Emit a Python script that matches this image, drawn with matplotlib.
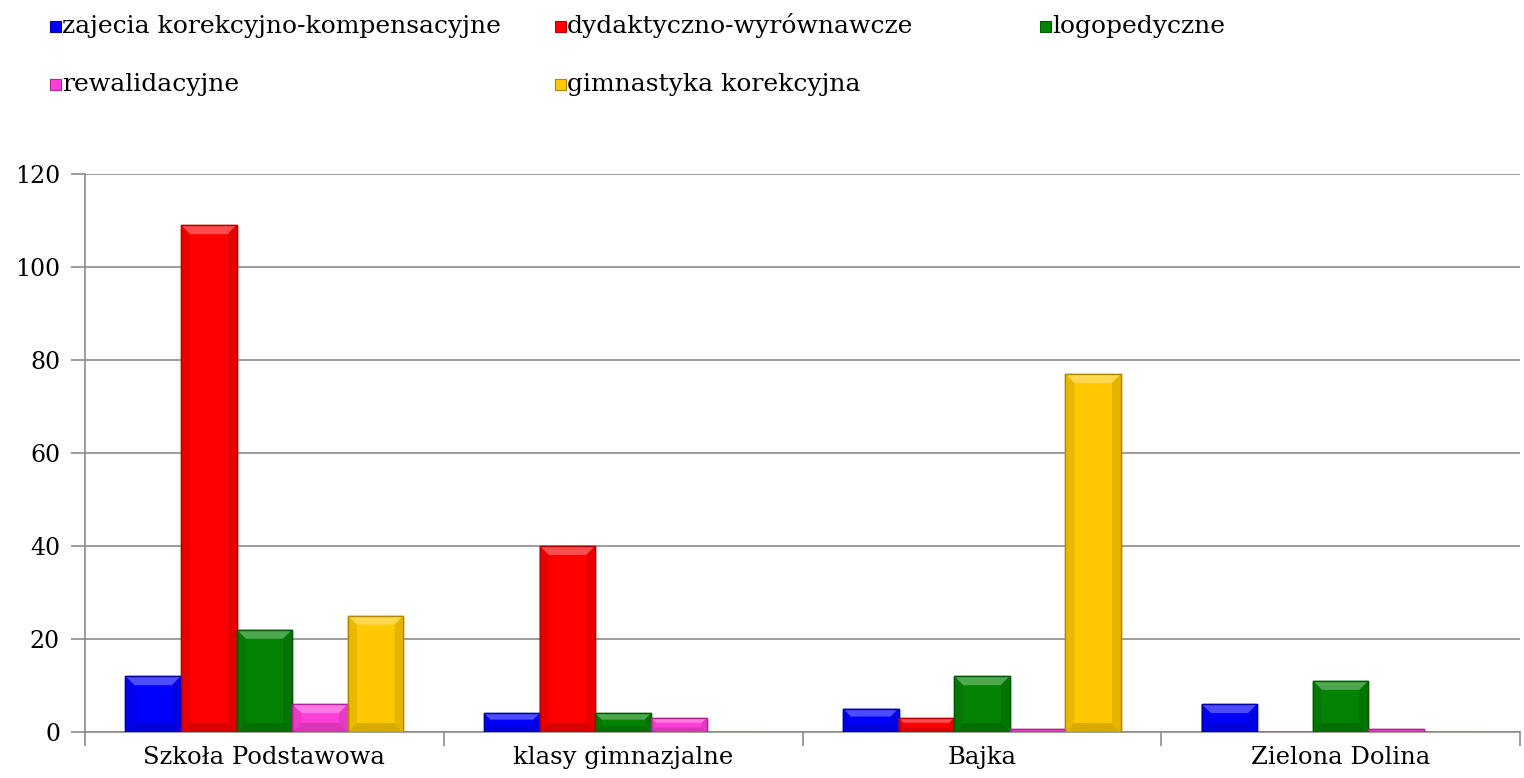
import matplotlib
matplotlib.use("Agg")
import matplotlib.pyplot as plt
import matplotlib.patches as mpatches
import matplotlib.colors as mcolors
import numpy as np

categories = ["Szkoła Podstawowa", "klasy gimnazjalne", "Bajka", "Zielona Dolina"]
series_names = ["zajecia korekcyjno-kompensacyjne", "dydaktyczno-wyrównawcze", "logopedyczne",
                "rewalidacyjne", "gimnastyka korekcyjna"]
zajecia = [12, 4, 5, 6]
dydaktyczno = [109, 40, 3, 0]
logopedyczne = [22, 4, 12, 11]
rewalidacyjne = [6, 3, 0.6, 0.6]
gimnastyka = [25, 0, 77, 0]
series_values = [zajecia, dydaktyczno, logopedyczne, rewalidacyjne, gimnastyka]
colors = ["#0000FF", "#FF0000", "#048204", "#FF40D8", "#FFC800"]
edges = ["#0000A0", "#B00000", "#025A02", "#B02098", "#B08800"]
yticks = [0, 20, 40, 60, 80, 100, 120]


def mix(c, other, t):
    a = np.array(mcolors.to_rgb(c))
    b = np.array(mcolors.to_rgb(other))
    return tuple(a * (1 - t) + b * t)


plt.rcParams['font.family'] = ['DejaVu Serif']
fig = plt.figure(figsize=(15.24, 7.78), dpi=100)
ax = fig.add_axes([0.0558, 0.0591, 0.9416, 0.7172])

ax.set_xlim(-0.5, len(categories) - 0.5)
ax.set_ylim(0, 120)

n = len(series_values)
bw = 0.155
x = np.arange(len(categories))
# bevel size in data units (~8 px)
px_x = 1.0 / 359.0
px_y = 120.0 / 558.0
for i, (vals, c, e) in enumerate(zip(series_values, colors, edges)):
    pos = x + (i - (n - 1) / 2) * bw
    bars = ax.bar(pos, vals, width=bw, color=c, edgecolor=e, linewidth=1.0, zorder=3)
    for b in bars:
        h = b.get_height()
        if h <= 0:
            continue
        x0 = b.get_x()
        x1 = x0 + b.get_width()
        dy = min(9 * px_y, h / 3.0)
        dx = min(9 * px_x, dy / px_y * px_x)
        top = [(x0, h), (x1, h), (x1 - dx, h - dy), (x0 + dx, h - dy)]
        bot = [(x0, 0), (x1, 0), (x1 - dx, dy), (x0 + dx, dy)]
        left = [(x0, 0), (x0 + dx, dy), (x0 + dx, h - dy), (x0, h)]
        right = [(x1, 0), (x1 - dx, dy), (x1 - dx, h - dy), (x1, h)]
        ax.add_patch(mpatches.Polygon(top, closed=True, facecolor=mix(c, "white", 0.3),
                                      edgecolor='none', zorder=3.5))
        ax.add_patch(mpatches.Polygon(bot, closed=True, facecolor=mix(c, "black", 0.15),
                                      edgecolor='none', zorder=3.5))
        ax.add_patch(mpatches.Polygon(left, closed=True, facecolor=mix(c, "black", 0.08),
                                      edgecolor='none', zorder=3.5))
        ax.add_patch(mpatches.Polygon(right, closed=True, facecolor=mix(c, "black", 0.1),
                                      edgecolor='none', zorder=3.5))
        ax.add_patch(mpatches.Rectangle((x0, 0), x1 - x0, h, facecolor='none',
                                        edgecolor=e, linewidth=1.0, zorder=3.6))

ax.set_yticks(yticks)
ax.set_yticklabels([str(t) for t in yticks], fontsize=17)
ax.yaxis.grid(True, color="#8C8C8C", linewidth=1.2, zorder=0)
ax.set_axisbelow(True)

ax.set_xticks(x)
ax.set_xticklabels(categories, fontsize=17.5)
ax.tick_params(axis='x', length=0, pad=10)
ax.set_xticks(np.arange(-0.5, len(categories) + 0.5, 1), minor=True)
ax.tick_params(axis='x', which='minor', length=10, color="#8C8C8C", width=1.2)
ax.tick_params(axis='y', length=10, color="#8C8C8C", width=1.2, pad=8)

for s in ['top', 'right']:
    ax.spines[s].set_visible(False)
for s in ['left', 'bottom']:
    ax.spines[s].set_color("#8C8C8C")
    ax.spines[s].set_linewidth(1.2)

# legend (manual placement)
W, H = 1524, 778
leg_pos = [(50, 26), (555, 26), (1040, 26), (50, 84), (555, 84)]
for (px, py), name, c, e in zip(leg_pos, series_names, colors, edges):
    sq = 11
    fig.patches.append(mpatches.Rectangle((px / W, 1 - (py + sq / 2) / H), sq / W, sq / H,
                                          transform=fig.transFigure, facecolor=c,
                                          edgecolor=e, linewidth=0.8))
    fig.text((px + 12) / W, 1 - py / H, name, fontsize=18, va='center', ha='left')

fig.savefig("out.png", dpi=100)
